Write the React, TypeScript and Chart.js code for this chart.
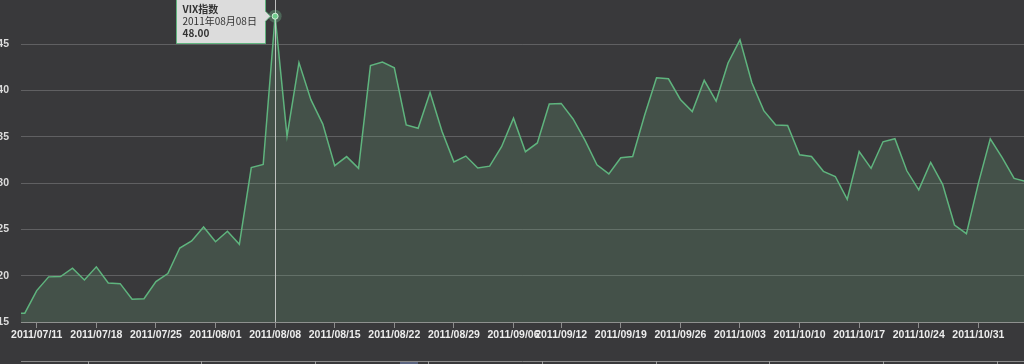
import React, { useEffect, useRef } from 'react';
import { Chart, registerables } from 'chart.js';

Chart.register(...registerables);

const seriesName = 'VIX指数';

const dates = [
  '2011/07/07', '2011/07/08',
  '2011/07/11', '2011/07/12', '2011/07/13', '2011/07/14', '2011/07/15',
  '2011/07/18', '2011/07/19', '2011/07/20', '2011/07/21', '2011/07/22',
  '2011/07/25', '2011/07/26', '2011/07/27', '2011/07/28', '2011/07/29',
  '2011/08/01', '2011/08/02', '2011/08/03', '2011/08/04', '2011/08/05',
  '2011/08/08', '2011/08/09', '2011/08/10', '2011/08/11', '2011/08/12',
  '2011/08/15', '2011/08/16', '2011/08/17', '2011/08/18', '2011/08/19',
  '2011/08/22', '2011/08/23', '2011/08/24', '2011/08/25', '2011/08/26',
  '2011/08/29', '2011/08/30', '2011/08/31', '2011/09/01', '2011/09/02',
  '2011/09/06', '2011/09/07', '2011/09/08', '2011/09/09',
  '2011/09/12', '2011/09/13', '2011/09/14', '2011/09/15', '2011/09/16',
  '2011/09/19', '2011/09/20', '2011/09/21', '2011/09/22', '2011/09/23',
  '2011/09/26', '2011/09/27', '2011/09/28', '2011/09/29', '2011/09/30',
  '2011/10/03', '2011/10/04', '2011/10/05', '2011/10/06', '2011/10/07',
  '2011/10/10', '2011/10/11', '2011/10/12', '2011/10/13', '2011/10/14',
  '2011/10/17', '2011/10/18', '2011/10/19', '2011/10/20', '2011/10/21',
  '2011/10/24', '2011/10/25', '2011/10/26', '2011/10/27', '2011/10/28',
  '2011/10/31', '2011/11/01', '2011/11/02', '2011/11/03', '2011/11/04',
];

const vix = [
  15.95, 15.95,
  18.39, 19.87, 19.91, 20.80, 19.53,
  20.95, 19.21, 19.14, 17.46, 17.52,
  19.36, 20.23, 22.98, 23.74, 25.25,
  23.66, 24.79, 23.38, 31.66, 32.00,
  48.00, 35.06, 42.99, 39.00, 36.36,
  31.87, 32.85, 31.58, 42.67, 43.05,
  42.44, 36.27, 35.90, 39.76, 35.59,
  32.28, 32.91, 31.62, 31.82, 33.92,
  37.00, 33.38, 34.32, 38.52,
  38.59, 36.91, 34.60, 31.97, 30.98,
  32.73, 32.86, 37.32, 41.35, 41.25,
  39.02, 37.71, 41.08, 38.84, 42.96,
  45.45, 40.82, 37.81, 36.27, 36.20,
  33.04, 32.86, 31.26, 30.70, 28.24,
  33.39, 31.58, 34.45, 34.78, 31.32,
  29.26, 32.22, 29.86, 25.46, 24.53,
  29.96, 34.77, 32.74, 30.50, 30.16,
];

const xTickDates = [
  '2011/07/11', '2011/07/18', '2011/07/25', '2011/08/01', '2011/08/08',
  '2011/08/15', '2011/08/22', '2011/08/29', '2011/09/06', '2011/09/12',
  '2011/09/19', '2011/09/26', '2011/10/03', '2011/10/10', '2011/10/17',
  '2011/10/24', '2011/10/31',
];

const yTickValues = [15, 20, 25, 30, 35, 40, 45];
const yMin = 15;
const yMax = 49.75;

// visible window of the (zoomed) category index axis
const viewStart = 0.68;
const viewEnd = 84.83;

const highlightDate = '2011/08/08';

const FONT = '"Noto Sans CJK SC", "Noto Sans", sans-serif';
const AXIS_FONT = '"Liberation Sans", Arial, sans-serif';

function tooltipDate(d: string) {
  const [y, m, dd] = d.split('/');
  return `${y}年${m}月${dd}日`;
}

export default function App() {
  const ref = useRef<HTMLCanvasElement>(null);

  useEffect(() => {
    const canvas = ref.current;
    if (!canvas) return;

    const overlay = {
      id: 'overlay',
      afterDatasetsDraw(chart: any) {
        const { ctx, chartArea } = chart;
        const xs = chart.scales.x;
        const ys = chart.scales.y;
        const i = dates.indexOf(highlightDate);
        const px = xs.getPixelForValue(i);
        const py = ys.getPixelForValue(vix[i]);
        ctx.save();
        // crosshair
        ctx.strokeStyle = 'rgba(215,215,215,0.85)';
        ctx.lineWidth = 1;
        ctx.beginPath();
        ctx.moveTo(Math.round(px) + 0.5, chartArea.top);
        ctx.lineTo(Math.round(px) + 0.5, chartArea.bottom);
        ctx.stroke();
        // highlighted point
        ctx.fillStyle = 'rgba(120,200,150,0.32)';
        ctx.beginPath();
        ctx.arc(px, py, 6.5, 0, Math.PI * 2);
        ctx.fill();
        ctx.fillStyle = '#6fcb8c';
        ctx.strokeStyle = '#d4eedb';
        ctx.lineWidth = 1;
        ctx.beginPath();
        ctx.arc(px, py, 3, 0, Math.PI * 2);
        ctx.fill();
        ctx.stroke();

        // tooltip
        const l1 = seriesName;
        const l2 = tooltipDate(dates[i]);
        const l3 = vix[i].toFixed(2);
        const bold = `bold 10px ${FONT}`;
        const norm = `10px ${FONT}`;
        ctx.font = bold;
        const w1 = ctx.measureText(l1).width;
        const w3 = ctx.measureText(l3).width;
        ctx.font = norm;
        const w2 = ctx.measureText(l2).width;
        const tw = Math.max(w1, w2, w3);
        const right = Math.round(px - 10) + 0.5;
        const left = Math.round(right - tw - 15) + 0.5;
        const top = py - 30;
        const bottom = Math.round(py + 27) + 0.5;
        ctx.fillStyle = '#dcdcdc';
        ctx.strokeStyle = '#5fb47e';
        ctx.lineWidth = 1;
        ctx.beginPath();
        ctx.moveTo(left, top);
        ctx.lineTo(right, top);
        ctx.lineTo(right, py - 5);
        ctx.lineTo(right + 5, py);
        ctx.lineTo(right, py + 5);
        ctx.lineTo(right, bottom);
        ctx.lineTo(left, bottom);
        ctx.closePath();
        ctx.fill();
        ctx.stroke();
        ctx.fillStyle = '#333333';
        ctx.textAlign = 'left';
        ctx.textBaseline = 'middle';
        ctx.font = bold;
        ctx.fillText(l1, left + 6, py - 6.7);
        ctx.font = norm;
        ctx.fillText(l2, left + 6, py + 4.7);
        ctx.font = bold;
        ctx.fillText(l3, left + 6, py + 16.7);
        ctx.restore();
      },
      afterDraw(chart: any) {
        const { ctx, chartArea } = chart;
        ctx.save();
        ctx.strokeStyle = '#8a8a8a';
        ctx.lineWidth = 1;
        ctx.beginPath();
        ctx.moveTo(chartArea.left, 361.5);
        ctx.lineTo(chart.width, 361.5);
        ctx.stroke();
        ctx.fillStyle = '#5b6480';
        ctx.fillRect(chartArea.left + 379, 362, 18, 2);
        ctx.strokeStyle = '#9a9a9a';
        for (let k = 0; k < 9; k++) {
          const xx = Math.round(chartArea.left + 66.7 + k * 113.6) + 0.5;
          ctx.beginPath();
          ctx.moveTo(xx, 361);
          ctx.lineTo(xx, 364);
          ctx.stroke();
        }
        ctx.restore();
      },
    };

    const chart = new Chart(canvas, {
      type: 'line',
      data: {
        datasets: [
          {
            label: seriesName,
            data: dates.map((d, i) => ({ x: i, y: vix[i] })),
            borderColor: '#5fb47e',
            borderWidth: 1.5,
            backgroundColor: 'rgba(117,182,129,0.2)',
            fill: 'start',
            pointRadius: 0,
            pointHoverRadius: 0,
            tension: 0,
          },
        ],
      },
      options: {
        animation: false,
        responsive: false,
        devicePixelRatio: 1,
        events: [],
        layout: { padding: 0 },
        plugins: { legend: { display: false }, tooltip: { enabled: false } },
        scales: {
          x: {
            type: 'linear',
            min: viewStart,
            max: viewEnd,
            afterBuildTicks: (s: any) => {
              s.ticks = xTickDates.map((d) => ({ value: dates.indexOf(d) }));
            },
            afterFit: (s: any) => {
              s.height = 42;
              s.paddingLeft = 0;
              s.paddingRight = 0;
              s.paddingTop = 0;
              s.paddingBottom = 0;
            },
            grid: { drawOnChartArea: false, drawTicks: true, tickLength: 6, color: '#8d8d8d' },
            border: { display: true, color: '#8f918f', width: 1 },
            ticks: {
              autoSkip: false,
              maxRotation: 0,
              minRotation: 0,
              padding: 2,
              color: '#ececec',
              font: { family: AXIS_FONT, size: 10.5, weight: 'bold', lineHeight: 1 },
              callback: (v: any) => dates[Math.round(Number(v))] ?? '',
            },
          },
          y: {
            min: yMin,
            max: yMax,
            afterBuildTicks: (s: any) => {
              s.ticks = yTickValues.map((v) => ({ value: v }));
            },
            afterFit: (s: any) => {
              s.width = 30;
              s.paddingTop = 0;
              s.paddingBottom = 0;
              s.paddingLeft = 0;
              s.paddingRight = 0;
            },
            grid: { color: 'rgba(255,255,255,0.2)', drawTicks: false },
            border: { display: false },
            ticks: { padding: 12, color: '#dcdcdc', font: { family: AXIS_FONT, size: 10.5, weight: 'bold' } },
          },
        },
      },
      plugins: [overlay],
    });

    return () => chart.destroy();
  }, []);

  return (
    <div
      style={{
        position: 'fixed',
        left: 0,
        top: 0,
        width: 1024,
        height: 364,
        overflow: 'hidden',
        background: '#39393b',
      }}
    >
      <canvas
        ref={ref}
        width={1033}
        height={364}
        style={{ position: 'absolute', left: -9, top: 0, width: 1033, height: 364 }}
      />
    </div>
  );
}
